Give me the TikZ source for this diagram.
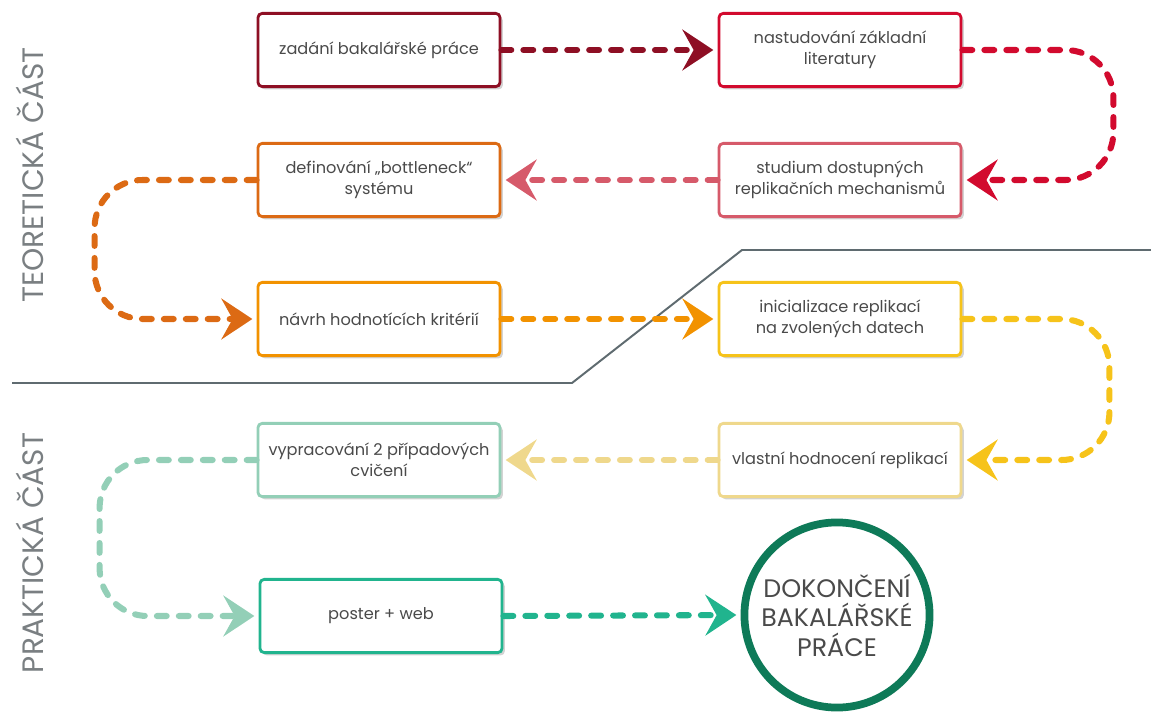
\documentclass[tikz,border=0pt]{standalone}
\usepackage{fontspec}
\setmainfont{Poppins}
\usetikzlibrary{arrows.meta,shadows}

\definecolor{zadcol}{HTML}{8E0F24}
\definecolor{litcol}{HTML}{D20A2E}
\definecolor{stucol}{HTML}{D65A6A}
\definecolor{defcol}{HTML}{DC6A14}
\definecolor{navcol}{HTML}{F29200}
\definecolor{inicol}{HTML}{F6C31A}
\definecolor{vlacol}{HTML}{EFD88C}
\definecolor{vypcol}{HTML}{93CFB7}
\definecolor{poscol}{HTML}{21B48E}
\definecolor{endcol}{HTML}{0E7A58}
\definecolor{txtcol}{HTML}{4A4A4A}
\definecolor{sidecol}{HTML}{7A7F82}
\definecolor{divcol}{HTML}{5F6B70}

\begin{document}
\begin{tikzpicture}[x=0.025cm,y=-0.025cm,
    box/.style={draw=#1, line width=2pt, rounded corners=3pt, fill=white,
        minimum width=6.05cm, minimum height=1.83cm, align=center,
        font=\fontsize{11.5}{15}\selectfont, text=txtcol,
        drop shadow={shadow xshift=2pt, shadow yshift=-2pt, opacity=0.35}},
    flow/.style={draw=#1, line width=4.3pt, line cap=round,
        dash pattern=on 7pt off 8.6pt, rounded corners=1.2cm, shorten >=3pt,
        -{Stealth[length=22pt, width=29pt, inset=8pt, fill=#1]}},
    side/.style={rotate=90, text=sidecol, font=\fontsize{21}{24}\selectfont}]

\useasboundingbox (0,0) rectangle (1151,716);

% dividing line between both parts
\draw[divcol, line width=1.4pt] (12,383) -- (572,383) -- (742,250) -- (1151,250);

\node[side] (teorie) at (30,175) {TEORETICKÁ ČÁST};
\node[side] (praxe) at (30,553) {PRAKTICKÁ ČÁST};

\node[box=zadcol] (zadani) at (379,50) {zadání bakalářské práce};
\node[box=litcol] (nastud) at (840,50) {nastudování základní\\literatury};
\node[box=stucol] (studium) at (840,180) {studium dostupných\\replikačních mechanismů};
\node[box=defcol] (defin) at (379,180) {definování „bottleneck“\\systému};
\node[box=navcol] (navrh) at (379,319) {návrh hodnotících kritérií};
\node[box=inicol] (inic) at (840,319) {inicializace replikací\\na zvolených datech};
\node[box=vlacol] (vlastni) at (840,460) {vlastní hodnocení replikací};
\node[box=vypcol] (vyprac) at (379,460) {vypracování 2 případových\\cvičení};
\node[box=poscol] (poster) at (381,616) {poster + web};
\node[circle, draw=endcol, line width=5.5pt, fill=white, minimum size=4.6cm,
    align=center, text=txtcol, font=\fontsize{18}{21}\selectfont,
    drop shadow={shadow xshift=2pt, shadow yshift=-2pt, opacity=0.35}]
    (konec) at (837,615) {DOKONČENÍ\\BAKALÁŘSKÉ\\PRÁCE};

\draw[flow=zadcol] (zadani.east) -- (nastud.west);
\draw[flow=litcol] (nastud.east) -- ++(151,0) |- (studium.east);
\draw[flow=stucol] (studium.west) -- (defin.east);
\draw[flow=defcol] (defin.west) -- ++(-162,0) |- (navrh.west);
\draw[flow=navcol] (navrh.east) -- (inic.west);
\draw[flow=inicol] (inic.east) -- ++(147,0) |- (vlastni.east);
\draw[flow=vlacol] (vlastni.west) -- (vyprac.east);
\draw[flow=vypcol] (vyprac.west) -- ++(-157,0) |- (poster.west);
\draw[flow=poscol] (poster.east) -- (konec.west);

\end{tikzpicture}
\end{document}
